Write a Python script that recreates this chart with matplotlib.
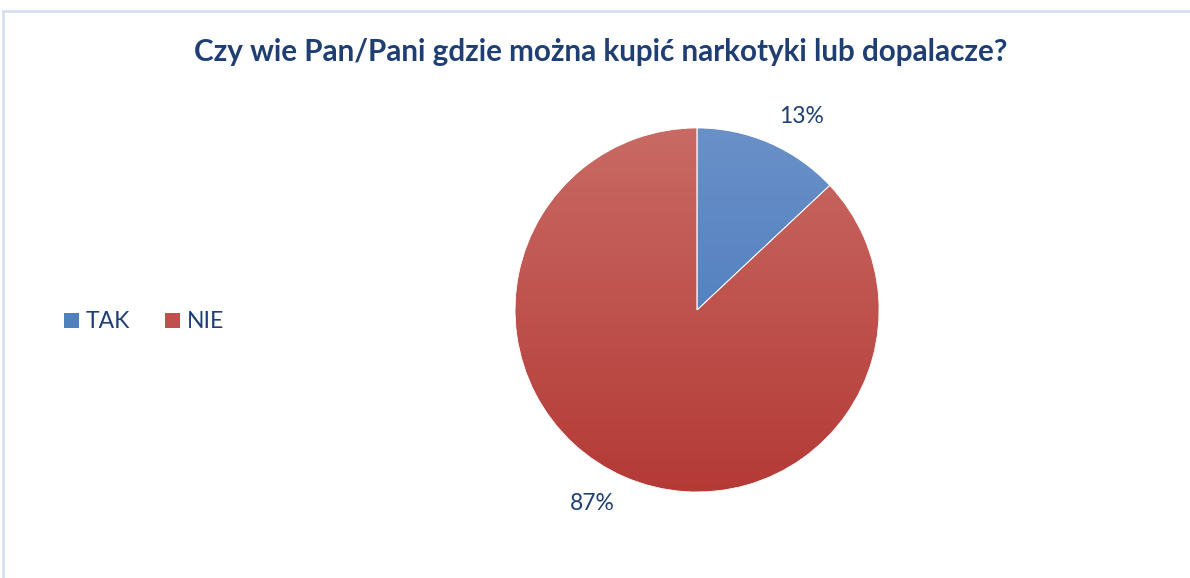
import matplotlib.pyplot as plt
import matplotlib.patches as mpatches
import numpy as np

# dane z wykresu
categories = ['TAK', 'NIE']
values = [13, 87]
colors_top = ['#6A90C8', '#C96A64']
colors_bottom = ['#3F74BA', '#B43A36']
colors_mid = ['#4F81BD', '#C0504D']
title = 'Czy wie Pan/Pani gdzie można kupić narkotyki lub dopalacze?'
text_color = '#1F3F73'

plt.rcParams['font.family'] = ['Lato', 'DejaVu Sans']

fig = plt.figure(figsize=(11.9, 5.78), dpi=100)

# jasnoniebieska ramka wykresu
fig.patches.append(mpatches.Rectangle((3 / 1190, -0.05), 1.2, 1 - 11 / 578 + 0.05,
                                      transform=fig.transFigure, fill=False,
                                      edgecolor='#D5E1EF', linewidth=2))

fig.text(0.505, 1 - 52 / 578, title, ha='center', va='center',
         fontsize=21.3, fontweight='bold', color=text_color)

ax = fig.add_axes([0.5857 - 0.1529, 0.4637 - 0.3149, 0.3059, 0.6298])
wedges, texts = ax.pie(values, colors=colors_mid, startangle=90,
                       counterclock=False,
                       wedgeprops=dict(edgecolor='white', linewidth=0.6))
ax.set_aspect('equal')
ax.axis('off')

# etykiety procentowe (jak w Excelu - lekko przesuniete zgodnie z ruchem wskazowek)
for w, v in zip(wedges, values):
    mid = np.deg2rad((w.theta1 + w.theta2) / 2 - 5)
    ax.text(1.21 * np.cos(mid), 1.21 * np.sin(mid), f'{v}%', ha='center', va='center',
            color=text_color, fontsize=16.5)

# gradient pionowy w kazdym wycinku
grad = np.linspace(0, 1, 256).reshape(-1, 1)
for w, ctop, cbot in zip(wedges, colors_top, colors_bottom):
    cmap = plt.matplotlib.colors.LinearSegmentedColormap.from_list('g', [cbot, ctop])
    im = ax.imshow(grad, cmap=cmap, extent=[-1, 1, -1, 1], origin='lower',
                   aspect='auto', zorder=w.get_zorder())
    im.set_clip_path(w)
    w.set_facecolor('none')
    w.set_zorder(w.get_zorder() + 0.1)

ax.set_xlim(-1, 1)
ax.set_ylim(-1, 1)

handles = [mpatches.Patch(facecolor=c, edgecolor='none') for c in colors_mid]
fig.legend(handles, categories, loc='center left', bbox_to_anchor=(43 / 1190, 1 - 322 / 578),
           ncol=2, frameon=False, fontsize=16.5, labelcolor=text_color,
           handlelength=0.65, handleheight=0.65, handletextpad=0.3, columnspacing=1.55)

fig.savefig('out.png', dpi=100, facecolor='white')
